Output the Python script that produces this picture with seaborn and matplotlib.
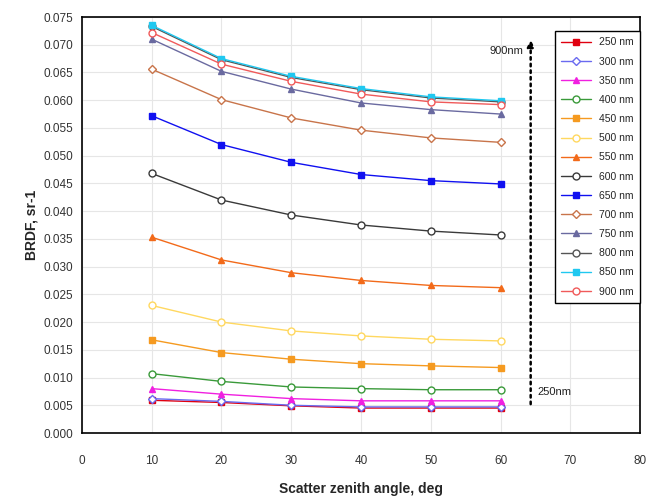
import matplotlib
matplotlib.use("Agg")

import pandas as pd
import matplotlib.pyplot as plt
import seaborn as sns

# ======================
# DATA
# ======================
angles = [10, 20, 30, 40, 50, 60]

wavelengths = ["250 nm", "300 nm", "350 nm", "400 nm", "450 nm", "500 nm", "550 nm",
               "600 nm", "650 nm", "700 nm", "750 nm", "800 nm", "850 nm", "900 nm"]

brdf_250 = [0.0059, 0.0055, 0.0049, 0.0045, 0.0045, 0.0045]
brdf_300 = [0.0062, 0.0057, 0.0050, 0.0047, 0.0047, 0.0047]
brdf_350 = [0.0080, 0.0070, 0.0062, 0.0058, 0.0058, 0.0058]
brdf_400 = [0.0107, 0.0093, 0.0083, 0.0080, 0.0078, 0.0078]
brdf_450 = [0.0168, 0.0145, 0.0133, 0.0125, 0.0121, 0.0118]
brdf_500 = [0.0230, 0.0200, 0.0184, 0.0175, 0.0169, 0.0166]
brdf_550 = [0.0353, 0.0312, 0.0289, 0.0275, 0.0266, 0.0262]
brdf_600 = [0.0468, 0.0420, 0.0393, 0.0375, 0.0364, 0.0357]
brdf_650 = [0.0572, 0.0520, 0.0488, 0.0466, 0.0455, 0.0449]
brdf_700 = [0.0656, 0.0601, 0.0568, 0.0546, 0.0532, 0.0524]
brdf_750 = [0.0710, 0.0652, 0.0620, 0.0595, 0.0583, 0.0575]
brdf_800 = [0.0733, 0.0673, 0.0641, 0.0619, 0.0604, 0.0597]
brdf_850 = [0.0735, 0.0675, 0.0643, 0.0621, 0.0606, 0.0599]
brdf_900 = [0.0722, 0.0665, 0.0634, 0.0611, 0.0597, 0.0592]

series = [brdf_250, brdf_300, brdf_350, brdf_400, brdf_450, brdf_500, brdf_550,
          brdf_600, brdf_650, brdf_700, brdf_750, brdf_800, brdf_850, brdf_900]

# ======================
# STYLE
# ======================
colors = ["#E00010", "#6A6AF0", "#F020E0", "#3A9A3A", "#F59A20", "#FFD860", "#F26A1A",
          "#3A3A3A", "#1010F0", "#C8744A", "#6A6AA0", "#555555", "#20C8F0", "#F05A5A"]
markers = ["s", "D", "^", "o", "s", "o", "^", "o", "s", "D", "^", "o", "s", "o"]
filled = [True, False, True, False, True, False, True,
          False, True, False, True, False, True, False]

sns.set_style("whitegrid")
plt.rcParams["font.family"] = ["Liberation Sans", "DejaVu Sans"]

fig = plt.figure(figsize=(6.5, 5), dpi=100)
ax = fig.add_axes([0.126, 0.134, 0.859, 0.832])

for lab, vals, c, m, f in zip(wavelengths, series, colors, markers, filled):
    df = pd.DataFrame({"angle": angles, "brdf": vals})
    sns.lineplot(
        data=df, x="angle", y="brdf", ax=ax,
        color=c, marker=m, markersize=5 if m != "D" else 4.5,
        markerfacecolor=c if f else "white",
        markeredgecolor=c, markeredgewidth=1.0,
        linewidth=1.0, label=lab
    )

ax.set_xlim(0, 80)
ax.set_ylim(0, 0.075)
ax.set_xticks(range(0, 81, 10))
ax.set_yticks([i * 0.005 for i in range(16)])
ax.set_yticklabels([f"{i * 0.005:.3f}" for i in range(16)])
ax.tick_params(labelsize=8.5, colors="#333333", length=0)
ax.tick_params(axis="y", pad=6)
ax.tick_params(axis="x", pad=16)
ax.grid(color="#E6E6E6", linewidth=0.8)

for s in ax.spines.values():
    s.set_color("black")
    s.set_linewidth(1.2)

ax.set_xlabel("Scatter zenith angle, deg", fontsize=10, fontweight="bold", labelpad=11)
ax.set_ylabel("BRDF, sr-1", fontsize=10, fontweight="bold", labelpad=4)

# wavelength arrow
ax.annotate("", xy=(64.3, 0.0714), xytext=(64.3, 0.0047),
            arrowprops=dict(arrowstyle="-|>", color="black", linestyle=":",
                            linewidth=1.8, mutation_scale=10))
ax.text(63.2, 0.0688, "900nm", fontsize=8, ha="right", va="center", color="#222222")
ax.text(65.2, 0.0074, "250nm", fontsize=8, ha="left", va="center", color="#222222")

leg = ax.legend(loc="upper right", bbox_to_anchor=(1.0, 0.966), borderaxespad=0,
                fontsize=7.5, frameon=True, fancybox=False, edgecolor="black",
                framealpha=1, labelspacing=0.88, handlelength=2.9, borderpad=0.6)
leg.get_frame().set_linewidth(1.0)

fig.savefig("out.png", dpi=100)
